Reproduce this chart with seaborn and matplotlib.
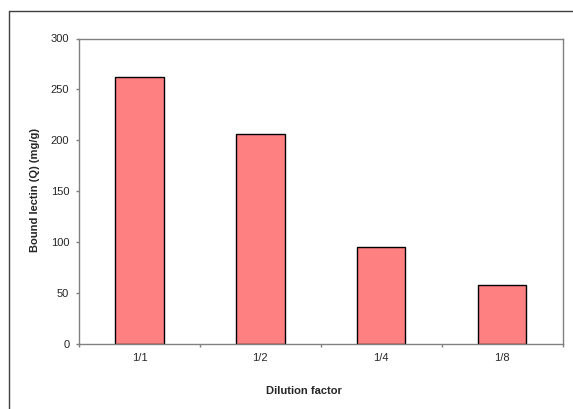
import matplotlib
matplotlib.use("Agg")
import matplotlib.pyplot as plt
from matplotlib.lines import Line2D
import seaborn as sns
import numpy as np

categories = ["1/1", "1/2", "1/4", "1/8"]
values = [262, 206, 95, 58.5]
yticks = [0, 50, 100, 150, 200, 250, 300]

sns.set_style("white")
plt.rcParams['font.family'] = ['Liberation Sans', 'DejaVu Sans']

fig = plt.figure(figsize=(5.73, 4.09), dpi=100)
L, R, T, B = 79, 562.7, 38.5, 344.3
ax = fig.add_axes([L/573, 1-B/409, (R-L)/573, (B-T)/409])

sns.barplot(x=categories, y=values, color="#FF8080", saturation=1,
            edgecolor="black", linewidth=1.0, width=0.4, ax=ax)

ax.set_ylim(0, 300)
ax.set_xlim(-0.5, 3.5)
ax.set_yticks(yticks)
ax.set_yticklabels([str(t) for t in yticks], fontsize=8)
ax.tick_params(axis='y', which='major', length=2.5, width=1, color='#808080', pad=4.5, left=True)
ax.tick_params(axis='x', which='major', length=0, pad=6, labelsize=8)
ax.set_xticks(np.arange(-0.5, 4.0, 1.0), minor=True)
ax.tick_params(axis='x', which='minor', length=2.5, width=1, color='#808080', bottom=True)

for s in ax.spines.values():
    s.set_visible(True)
    s.set_color('#808080')
    s.set_linewidth(1.0)

ax.set_xlabel("Dilution factor", fontsize=8, fontweight='bold', va='center')
ax.set_ylabel("Bound lectin (Q) (mg/g)", fontsize=8, fontweight='bold', va='center')
ax.xaxis.set_label_coords((304-L)/(R-L), (B-391)/(B-T))
ax.yaxis.set_label_coords((35-L)/(R-L), (B-190)/(B-T))

# outer frame (top and left edges visible)
fig.add_artist(Line2D([9/573, 1.0], [1-11/409, 1-11/409], transform=fig.transFigure, color='#404040', lw=1.0))
fig.add_artist(Line2D([9/573, 9/573], [0.0, 1-11/409], transform=fig.transFigure, color='#404040', lw=1.0))

fig.savefig("out.png", dpi=100)
